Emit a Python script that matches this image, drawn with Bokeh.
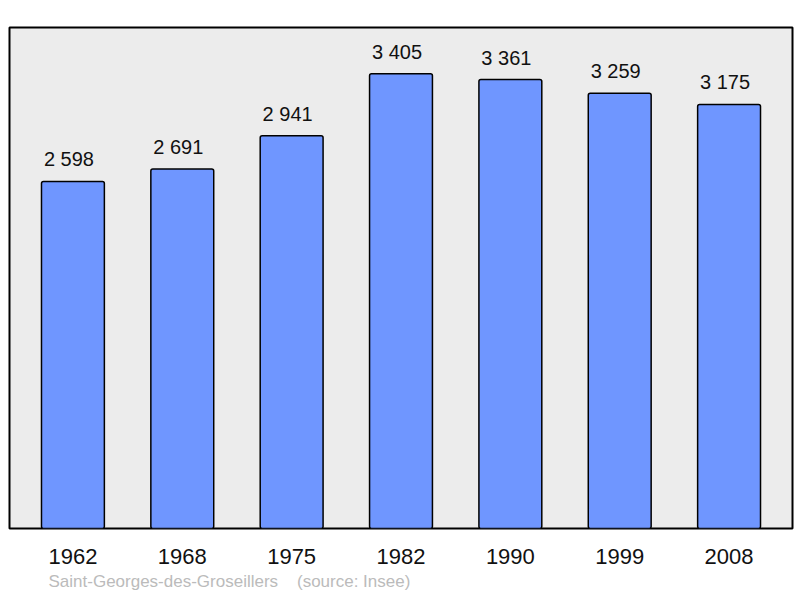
from bokeh.plotting import figure
from bokeh.models import FactorRange, Range1d, Title, ColumnDataSource
from bokeh.core.properties import value
from bokeh.embed import file_html
from bokeh.resources import INLINE

years = ["1962", "1968", "1975", "1982", "1990", "1999", "2008"]
population = [2598, 2691, 2941, 3405, 3361, 3259, 3175]
labels = ["2 598", "2 691", "2 941", "3 405", "3 361", "3 259", "3 175"]
commune = "Saint-Georges-des-Groseillers"
source_note = "(source: Insee)"

src = ColumnDataSource(dict(x=years, y=population, label=labels))

FONT = "Liberation Sans"

p = figure(
    width=800, height=598,
    x_range=FactorRange(*years, range_padding=0.08, range_padding_units="absolute"),
    y_range=Range1d(0, 3751),
    output_backend="svg", toolbar_location=None,
    min_border_left=9, min_border_right=8, min_border_top=27, min_border_bottom=70,
    background_fill_color="#ececec", border_fill_color="white",
)
p.outline_line_color = "black"
p.outline_line_width = 2
p.grid.visible = False
p.yaxis.visible = False

p.vbar(x="x", top="y", width=0.575, source=src, fill_color="#6f96ff",
       line_color="black", line_width=1.5, border_radius=2)
p.text(x="x", y="y", text="label", source=src, x_offset=-4, y_offset=-11,
       text_align="center", text_baseline="bottom",
       text_font=value(FONT), text_font_size="20px", text_color="#111111")

ax = p.xaxis[0]
ax.axis_line_color = None
ax.major_tick_line_color = None
ax.minor_tick_line_color = None
ax.major_label_standoff = 14
ax.major_label_text_font = FONT
ax.major_label_text_font_size = "22px"
ax.major_label_text_color = "#111111"

foot = Title(text=commune + "\u00a0\u00a0\u00a0\u00a0" + source_note, align="left", offset=39,
             text_font=FONT, text_font_size="17px", text_font_style="normal",
             text_color="#bbbbbb", standoff=7)
p.add_layout(foot, "below")

open("out.html", "w").write(file_html(p, INLINE))
